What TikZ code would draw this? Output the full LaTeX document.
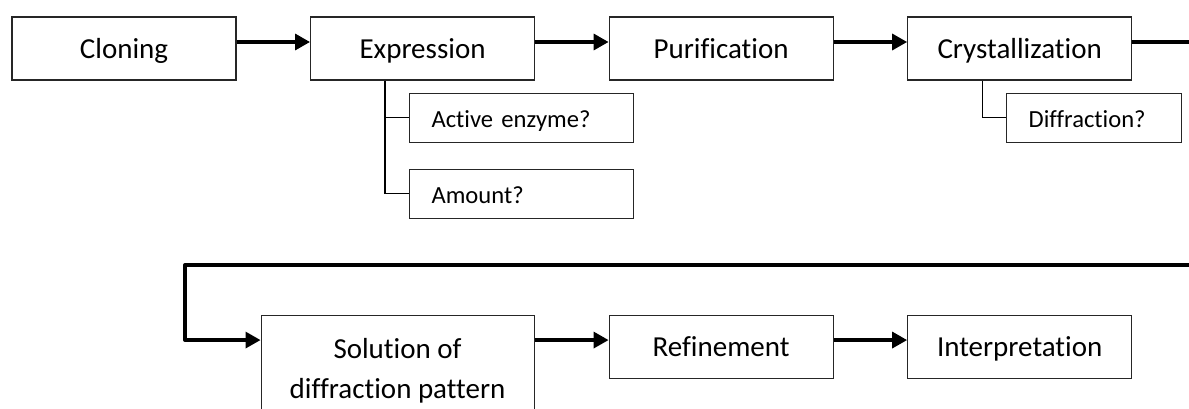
\documentclass[tikz,border=0pt]{standalone}
\usepackage{fontspec}
\setmainfont{Carlito}[Ligatures=NoCommon]
\usetikzlibrary{positioning,arrows.meta}

\begin{document}
\begin{tikzpicture}[>={Triangle[length=3mm,width=3.2mm]}, node distance=1.47cm,
    stage/.style={draw=black!85,line width=0.6pt,rectangle,minimum width=4.48cm,minimum height=1.26cm,inner sep=2pt,text height=12.4pt,text depth=1.5pt,align=center,font=\fontsize{16.5}{23}\selectfont},
    ques/.style={draw=black!85,line width=0.6pt,rectangle,minimum height=0.98cm,inner xsep=0.44cm,inner ysep=2pt,text height=12pt,text depth=1.2pt,align=left,font=\fontsize{14}{17}\selectfont},
    flow/.style={->,line width=1.9pt,line join=round},
    link/.style={line width=0.7pt}]
%
   \useasboundingbox (0,0) rectangle (23.78,8.16);
   \clip (0,0) rectangle (23.78,8.16);
   \node[stage]         (N1) at (2.48,7.19) {Cloning};
   \node[stage]         (N2) [right=of N1] {Expression};
   \node[stage]         (N3) [right=of N2] {Purification};
   \node[stage]         (N4) [right=of N3] {Crystallization};
   \node[ques, text width=3.6cm, anchor=north west]  (N5) at ([xshift=1.98cm,yshift=-0.24cm]N2.south west) {Active enzyme?};
   \node[ques, text width=3.6cm]  (N6) [below=0.52cm of N5] {Amount?};
   \node[ques, text width=2.62cm, anchor=north west] (N7) at ([xshift=1.98cm,yshift=-0.24cm]N4.south west) {Diffraction?};
   \node[stage]         (N9) [below=4.68cm of N3] {Refinement};
   \node[stage]         (N10) [right=of N9] {Interpretation};
   \node[stage, text height=, text depth=, minimum width=5.46cm, minimum height=2.24cm, anchor=north east] (N8) at ([xshift=-1.48cm]N9.north west) {Solution of\\diffraction pattern};
   \coordinate (B1) at ([xshift=1.5cm]N2.south west);
   \coordinate (B2) at ([xshift=1.5cm]N4.south west);
   \coordinate (L1) at (3.7,2.86);
   \coordinate (E1) at ([yshift=1.3mm]N9.west);
   \draw[flow] ([yshift=1.3mm]N1.east) -- ([yshift=1.3mm]N2.west);
   \draw[flow] ([yshift=1.3mm]N2.east) -- ([yshift=1.3mm]N3.west);
   \draw[flow] ([yshift=1.3mm]N3.east) -- ([yshift=1.3mm]N4.west);
   \draw[link] (B1) |- (N5.west);
   \draw[link] (B1) |- (N6.west);
   \draw[link] (B2) |- (N7.west);
   \draw[flow] ([yshift=1.3mm]N4.east) -- ++(1.6,0) |- (L1) |- (E1 -| N8.west);
   \draw[flow] (E1 -| N8.east) -- (E1);
   \draw[flow] ([yshift=1.3mm]N9.east) -- ([yshift=1.3mm]N10.west);
\end{tikzpicture}
\end{document}
